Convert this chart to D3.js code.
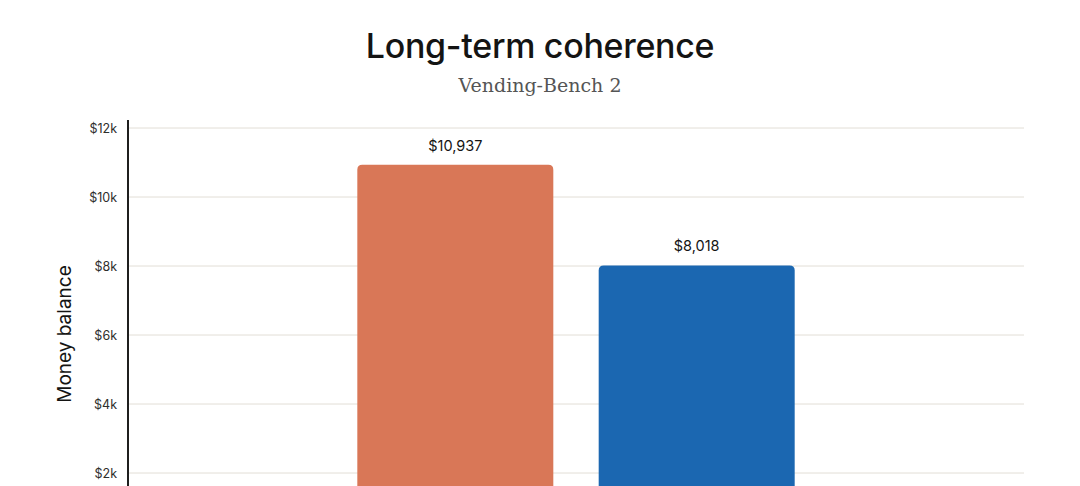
<!DOCTYPE html>
<html>
<head>
<meta charset="utf-8">
<script src="https://cdn.jsdelivr.net/npm/d3@7"></script>
<style>
  html, body { margin: 0; padding: 0; background: #ffffff; overflow: hidden; }
  svg { display: block; }
</style>
</head>
<body>
<svg id="chart" width="1080" height="486"></svg>
<script>
const categories = ["Claude Opus 4.5", "Gemini 3 Pro"];
const values = [10937, 8018];
const barColors = ["#D97757", "#1B67B1"];
const tickValues = [2000, 4000, 6000, 8000, 10000, 12000];
const tickLabels = ["$2k", "$4k", "$6k", "$8k", "$10k", "$12k"];

const svg = d3.select("#chart");
const W = 1080;
const left = 128, right = 1024;
const yTop = 128; // position of $12k
const yZero = 542; // position of $0 (below visible area)

const x = d3.scaleBand().domain(categories).range([left, right])
  .paddingInner(0.188).paddingOuter(0.95);
const y = d3.scaleLinear().domain([0, 12000]).range([yZero, yTop]);

// Title
svg.append("text").attr("x", W / 2).attr("y", 58).attr("text-anchor", "middle")
  .attr("font-family", "Inter, 'Noto Sans', sans-serif").attr("font-size", 34)
  .attr("font-weight", 500).attr("fill", "#141413").attr("letter-spacing", -0.3)
  .text("Long-term coherence");
svg.append("text").attr("x", W / 2).attr("y", 92).attr("text-anchor", "middle")
  .attr("font-family", "'DejaVu Serif', 'Liberation Serif', serif").attr("font-size", 19)
  .attr("fill", "#555555")
  .text("Vending-Bench 2");

// Gridlines
const grid = svg.append("g");
grid.selectAll("line").data(tickValues).join("line")
  .attr("x1", left + 1).attr("x2", right)
  .attr("y1", d => y(d)).attr("y2", d => y(d))
  .attr("stroke", "#e2ded6").attr("stroke-width", 1);

// Y axis
const yAxis = d3.axisLeft(y).tickValues(tickValues)
  .tickFormat((d, i) => tickLabels[i]).tickSize(0).tickPadding(11);
const ag = svg.append("g").attr("transform", `translate(${left},0)`).call(yAxis);
ag.select(".domain").remove();
ag.selectAll("text").attr("font-family", "Inter, 'Noto Sans', sans-serif")
  .attr("font-size", 12.5).attr("fill", "#2e2e2c");
svg.append("line").attr("x1", left).attr("x2", left).attr("y1", 120).attr("y2", 600)
  .attr("stroke", "#1f1f1e").attr("stroke-width", 2);

// Y label
svg.append("text").attr("transform", `translate(71,334) rotate(-90)`)
  .attr("text-anchor", "middle").attr("font-family", "Inter, 'Noto Sans', sans-serif")
  .attr("font-size", 19).attr("fill", "#141413").text("Money balance");

// Bars with rounded tops
const r = 5;
function barPath(x0, w, yt, yb) {
  return `M${x0},${yb} L${x0},${yt + r} Q${x0},${yt} ${x0 + r},${yt} L${x0 + w - r},${yt} Q${x0 + w},${yt} ${x0 + w},${yt + r} L${x0 + w},${yb} Z`;
}
svg.append("g").selectAll("path").data(categories).join("path")
  .attr("d", (c, i) => barPath(x(c), x.bandwidth(), y(values[i]), y(0)))
  .attr("fill", (c, i) => barColors[i]);

// Value labels
svg.append("g").selectAll("text").data(categories).join("text")
  .attr("x", c => x(c) + x.bandwidth() / 2)
  .attr("y", (c, i) => y(values[i]) - 14)
  .attr("text-anchor", "middle")
  .attr("font-family", "Inter, 'Noto Sans', sans-serif").attr("font-size", 14.5)
  .attr("fill", "#141413")
  .text((c, i) => "$" + d3.format(",")(values[i]));
</script>
</body>
</html>
